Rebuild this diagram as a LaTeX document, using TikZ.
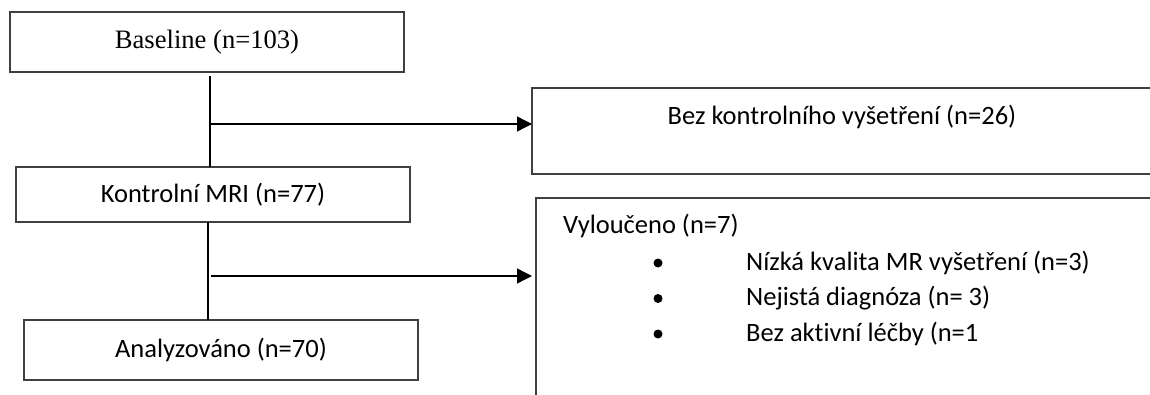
\documentclass[tikz,border=0pt]{standalone}
\usepackage{fontspec}
\setmainfont{Liberation Serif}
\newfontfamily\calfont[Ligatures=NoCommon]{Carlito}
\usetikzlibrary{arrows.meta}

\begin{document}
\begin{tikzpicture}[x=1pt, y=-1pt,
  box/.style={draw=black!75, line width=1.3pt, inner sep=0pt, outer sep=0pt},
  conn/.style={black, line width=1.3pt},
  arr/.style={conn, -{Triangle[length=15pt, width=15pt]}},
  txt/.style={font=\calfont\fontsize{26.5}{31}\selectfont, inner sep=0pt},
  dot/.style={circle, fill=black, inner sep=0pt, minimum size=9pt}]
\useasboundingbox (0,0) rectangle (1150,395);
\clip (0,0) rectangle (1150,395);

% Left column
\node[box, minimum width=394pt, minimum height=60pt, font=\fontsize{26.6}{32}\selectfont] (base) at (207,42) {Baseline (n=103)};
\node[box, txt, minimum width=394pt, minimum height=55pt] (ctrl) at (213,194.5) {Kontrolní MRI (n=77)};
\node[box, txt, minimum width=394pt, minimum height=60pt] (anal) at (221,350) {Analyzováno (n=70)};

% Right column
\node[box, minimum width=620pt, minimum height=86pt] (nofu) at (842,131) {};
\node[txt] (nofutxt) at (842,117) {Bez kontrolního vyšetření (n=26)};
\node[box, minimum width=616pt, minimum height=222pt] (excl) at (844,309) {};
\node[txt, anchor=west] (excltxt) at (563,226) {Vyloučeno (n=7)};
\foreach \t [count=\i] in {Nízká kvalita MR vyšetření (n=3), Nejistá diagnóza (n= 3), Bez aktivní léčby (n=1}{
  \node[dot] (dot\i) at (658, {263+35.5*(\i-1)}) {};
  \node[txt, anchor=west] (item\i) at (746, {263+35.5*(\i-1)}) {\t};
}

% Connectors
\coordinate (j1) at (210,124);
\coordinate (j2) at (208,276);
\draw[conn] ([yshift=-4pt]base.south -| j1) -- (ctrl.north -| j1);
\draw[arr] (j1) -- (j1 -| nofu.west);
\draw[conn] (ctrl.south -| j2) -- (anal.north -| j2);
\draw[arr, shorten >=4pt] ([xshift=3pt]j2) -- (j2 -| excl.west);

\end{tikzpicture}
\end{document}
